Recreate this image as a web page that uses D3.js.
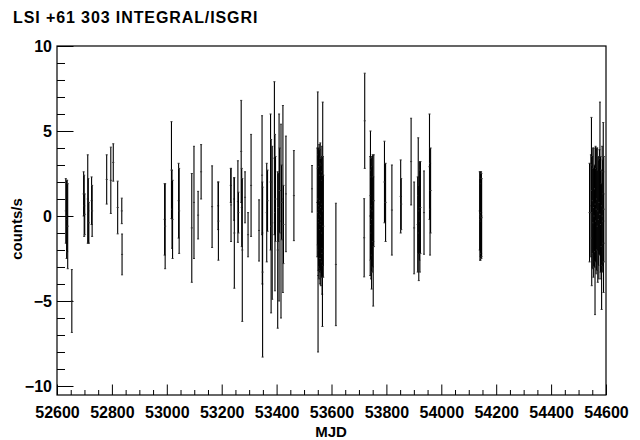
<!DOCTYPE html>
<html>
<head>
<meta charset="utf-8">
<script src="https://cdn.jsdelivr.net/npm/d3@7"></script>
<style>
  body { margin: 0; background: #fff; }
  text { font-family: "Liberation Sans", Arial, sans-serif; font-weight: bold; }
</style>
</head>
<body>
<div id="app"></div>
<script>
// light curve (MJD, counts/s, 1-sigma error)
var mjd = [
  52632, 52635, 52637, 52639, 52654,
  52697, 52699, 52701, 52712, 52714, 52716, 52726, 52728,
  52781, 52796, 52805, 52821, 52836, 52837,
  52992, 52994, 53017, 53019, 53021, 53043, 53045, 53091, 53099, 53114, 53125,
  53165, 53187, 53188, 53233, 53234, 53245, 53246, 53259, 53261,
  53271, 53273, 53275, 53285, 53296, 53307, 53336, 53347, 53348, 53349,
  53364, 53367, 53378, 53380, 53384, 53392, 53394, 53396, 53404, 53406,
  53409, 53411, 53416, 53418, 53423, 53425, 53434, 53463,
  53529, 53548, 53550, 53551, 53552, 53553, 53554, 53555, 53556, 53557, 53558,
  53559, 53560, 53561, 53562, 53563, 53564, 53565, 53566, 53567, 53568, 53569, 53570,
  53616,
  53719, 53721, 53741, 53742, 53744, 53745, 53746, 53747, 53748, 53750, 53752, 53754,
  53793, 53797, 53820, 53852, 53854, 53890, 53901,
  53914, 53916, 53918, 53920, 53922, 53924, 53937, 53957, 53959, 53961,
  54140, 54141, 54142, 54143, 54144, 54145, 54146, 54147,
  54540, 54545, 54547, 54548, 54550, 54552, 54554, 54556, 54558, 54560, 54562,
  54564, 54566, 54568, 54570, 54572, 54574, 54576, 54578, 54580, 54582, 54584,
  54586, 54588, 54590, 54591, 54592
];
var rate = [
  0.3, -0.2, 0.0, -0.6, -5.0,
  1.3, 0.6, 0.1, 1.0, 0.3, -0.4, 0.9, 0.3,
  2.15, 2.1, 3.15, 0.5, 0.3, -2.26,
  -0.2, -0.6, 2.7, 0.4, -0.2, 0.9, 0.3, -0.7, 0.8, 0.05, 2.6,
  0.55, 0.6, -0.3, 1.8, 0.65, 1.0, -1.0, 0.85, 0.2,
  3.8, 0.5, -2.0, 1.1, -1.1, 1.8, -0.85, 2.4, -1.0, -3.3,
  0.2, 0.9, 2.0, -0.6, -0.4, 3.4, 0.2, 1.0, -2.0, 0.5,
  0.5, 1.5, -0.3, 0.8, 1.0, -0.5, 1.3, 1.2,
  1.6, 0.8, 2.8, -3.5, 0.2, 1.0, -0.4, 0.6, -0.2, 0.4, -0.8,
  0.9, 0.1, -0.5, 0.5, 0.0, -0.3, 0.7, -1.0, -2.2, 2.4, 0.3, -0.6,
  -2.85,
  -1.28, 5.6, 0.0, 1.2, -0.5, 0.4, -1.0, 0.6, -0.2, 0.3, -1.5, 0.9,
  2.0, 0.8, 0.35, 1.15, 0.7, 3.2, -0.7,
  -0.5, 1.2, -1.0, 0.3, -0.3, 0.5, 0.2, 2.9, 0.4, 1.5,
  0.3, -0.2, 0.1, 0.0, -0.3, 0.2, 0.0, -0.1,
  0.2, 0.6, 3.0, -1.3, 0.2, 0.9, -0.4, 0.5, 0.0, -2.1, 0.7,
  -0.3, 0.4, 1.0, -0.6, 0.3, -0.2, 0.8, 3.4, 0.1, -0.5, -1.8,
  0.6, 0.0, 2.6, -1.6, 0.4
];
var err = [
  1.9, 2.3, 2.1, 2.5, 1.85,
  1.3, 1.8, 1.2, 2.6, 1.9, 1.2, 1.4, 1.5,
  1.45, 1.95, 1.1, 1.55, 0.75, 1.2,
  2.1, 2.5, 2.85, 2.3, 2.3, 2.2, 2.5, 3.2, 3.3, 1.4, 1.6,
  2.4, 1.4, 2.3, 1.0, 2.15, 1.25, 3.25, 2.4, 1.2,
  3.0, 2.3, 4.2, 1.5, 1.3, 3.0, 1.8, 3.5, 3.0, 5.0,
  2.9, 1.8, 4.0, 5.1, 4.5, 4.5, 4.6, 2.5, 4.6, 2.0,
  5.5, 2.5, 5.7, 2.2, 5.5, 2.3, 3.4, 2.65,
  1.37, 3.2, 4.5, 4.5, 3.4, 3.0, 3.3, 3.6, 3.1, 3.5, 3.2,
  3.4, 3.3, 3.6, 3.0, 3.4, 3.3, 3.4, 3.6, 4.3, 4.3, 3.2, 3.0,
  3.6,
  2.3, 2.8, 3.5, 3.8, 3.2, 3.0, 3.3, 2.9, 3.1, 3.3, 3.8, 2.7,
  2.4, 2.3, 2.65, 2.15, 1.5, 2.55, 2.7,
  2.8, 3.4, 2.8, 2.9, 3.0, 2.7, 2.45, 3.1, 2.7, 2.5,
  2.3, 2.4, 2.5, 2.6, 2.2, 2.4, 2.5, 2.3,
  2.9, 3.0, 2.8, 2.8, 3.3, 3.1, 3.2, 3.5, 3.0, 3.7, 3.4,
  3.1, 3.6, 3.0, 3.3, 3.2, 3.5, 3.1, 3.3, 3.4, 3.2, 3.7,
  3.5, 3.3, 2.9, 2.9, 3.1
];

var xMajor = [52600, 52800, 53000, 53200, 53400, 53600, 53800, 54000, 54200, 54400, 54600];
var yMajor = [-10, -5, 0, 5, 10];

var width = 640, height = 440;
var padL = 57, padR = 606, padT = 46, padB = 395;

var svg = d3.select('#app')
  .append('svg')
  .attr('width', width)
  .attr('height', height);

var x = d3.scaleLinear().domain([52600, 54600]).range([padL, padR]);
var y = d3.scaleLinear().domain([-10.53, 10]).range([padB, padT]);

// minor ticks
var xMinor = d3.range(52600, 54601, 50).filter(function (d) { return xMajor.indexOf(d) < 0; });
var yMinor = d3.range(-10, 11, 1).filter(function (d) { return yMajor.indexOf(d) < 0; });

svg.append('g')
  .attr('transform', 'translate(0,' + padB + ')')
  .call(d3.axisBottom(x).tickValues(xMinor).tickSize(-5).tickFormat(''))
  .call(function (g) { g.select('.domain').remove(); });

svg.append('g')
  .attr('class', 'xaxis')
  .attr('transform', 'translate(0,' + padB + ')')
  .call(d3.axisBottom(x).tickValues(xMajor).tickSize(-10.5).tickPadding(12).tickFormat(d3.format('d')))
  .call(function (g) { g.select('.domain').remove(); });

svg.append('g')
  .attr('transform', 'translate(' + padL + ',0)')
  .call(d3.axisLeft(y).tickValues(yMinor).tickSize(-8).tickFormat(''))
  .call(function (g) { g.select('.domain').remove(); });

svg.append('g')
  .attr('class', 'yaxis')
  .attr('transform', 'translate(' + padL + ',0)')
  .call(d3.axisLeft(y).tickValues(yMajor).tickSize(-16.5).tickPadding(5).tickFormat(d3.format('d')))
  .call(function (g) { g.select('.domain').remove(); });

svg.selectAll('.tick line').attr('stroke', '#000');
svg.selectAll('.xaxis text, .yaxis text')
  .attr('fill', '#000')
  .style('font-size', '16px')
  .style('font-family', '"Liberation Sans", Arial, sans-serif')
  .style('font-weight', 'bold');

// frame
svg.append('rect')
  .attr('x', padL)
  .attr('y', padT)
  .attr('width', padR - padL)
  .attr('height', padB - padT)
  .attr('fill', 'none')
  .attr('stroke', '#000')
  .attr('stroke-width', 1.2);

// error bars
var pts = mjd.map(function (d, i) { return { t: d, v: rate[i], e: err[i] }; });

var bars = svg.append('g').attr('class', 'bars')
  .selectAll('g')
  .data(pts)
  .enter()
  .append('g');

bars.append('line')
  .attr('x1', function (d) { return x(d.t); })
  .attr('x2', function (d) { return x(d.t); })
  .attr('y1', function (d) { return y(d.v + d.e); })
  .attr('y2', function (d) { return y(d.v - d.e); })
  .attr('stroke', '#000')
  .attr('stroke-width', 1.1);

// tiny end caps and the point itself
bars.selectAll('rect')
  .data(function (d) { return [d.v + d.e, d.v, d.v - d.e].map(function (v) { return { t: d.t, v: v }; }); })
  .enter()
  .append('rect')
  .attr('x', function (d) { return x(d.t) - 1; })
  .attr('y', function (d) { return y(d.v) - 0.5; })
  .attr('width', 2)
  .attr('height', 1)
  .attr('fill', '#333');

// titles
svg.append('text')
  .attr('x', 13)
  .attr('y', 23)
  .style('font-size', '16px')
  .style('letter-spacing', '0.9px')
  .text('LSI +61 303 INTEGRAL/ISGRI');

svg.append('text')
  .attr('x', 331)
  .attr('y', 437)
  .attr('text-anchor', 'middle')
  .style('font-size', '15px')
  .text('MJD');

svg.append('text')
  .attr('transform', 'translate(22,229) rotate(-90)')
  .attr('text-anchor', 'middle')
  .style('font-size', '15px')
  .text('counts/s');
</script>
</body>
</html>
